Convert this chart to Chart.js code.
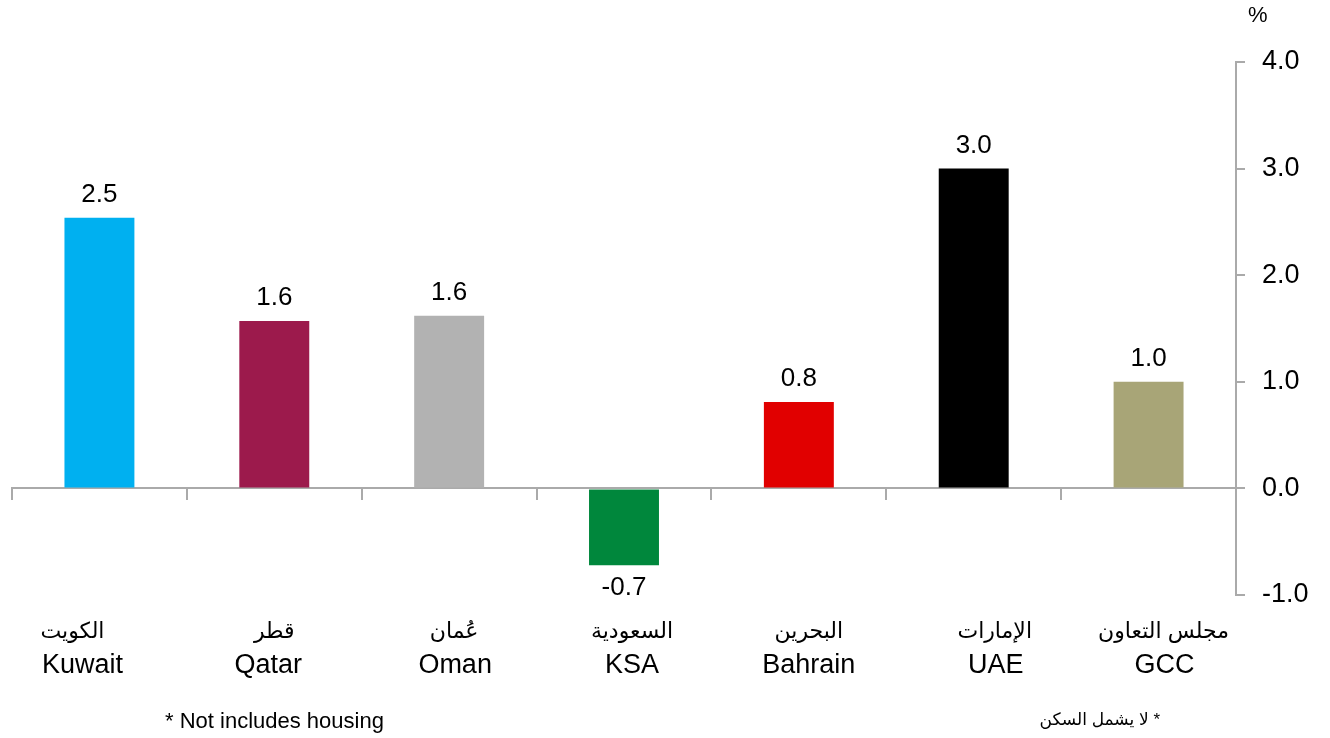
<!DOCTYPE html>
<html>
<head>
<meta charset="utf-8">
<script src="https://cdn.jsdelivr.net/npm/chart.js@4/dist/chart.umd.min.js"></script>
<style>
  html, body { margin: 0; padding: 0; background: #fff; }
  #wrap { position: relative; width: 1330px; height: 738px; }
  .note { position: absolute; font-family: "Liberation Sans", Arial, "DejaVu Sans", sans-serif; color: #000; white-space: nowrap; }
</style>
</head>
<body>
<div id="wrap">
  <canvas id="cpiChart" width="1330" height="738"></canvas>
  <div class="note" style="left:1248px; top:2px; font-size:22px;">%</div>
  <div class="note" style="left:165px; top:708px; font-size:22px;">* Not includes housing</div>
  <div class="note" dir="rtl" style="right:170px; top:709px; font-size:17px;">* لا يشمل السكن</div>
</div>
<script>
const arabicNames = ['الكويت', 'قطر', 'عُمان', 'السعودية', 'البحرين', 'الإمارات', 'مجلس التعاون'];
const englishNames = ['Kuwait', 'Qatar', 'Oman', 'KSA', 'Bahrain', 'UAE', 'GCC'];
const inflation = [2.54, 1.57, 1.62, -0.72, 0.81, 3.0, 1.0];
const barColors = ['#00b0f0', '#9c1a4c', '#b2b2b2', '#00873c', '#e10000', '#000000', '#a8a577'];
const yTicks = [4.0, 3.0, 2.0, 1.0, 0.0, -1.0];

// category labels in the original are not exactly centred under the bars
const shiftAr = [-27, 0, 5, 8, 10, 21, 15];
const shiftEn = [-17, -6, 6, 8, 10, 22, 16];

const lineColor = '#aaaaaa';
const fontFamily = '"Liberation Sans", Arial, "DejaVu Sans", sans-serif';

// value labels above / below bars
const valueLabels = {
  id: 'valueLabels',
  afterDatasetsDraw(chart) {
    const ctx = chart.ctx;
    const meta = chart.getDatasetMeta(0);
    ctx.save();
    ctx.font = '26px ' + fontFamily;
    ctx.fillStyle = '#000';
    ctx.textAlign = 'center';
    ctx.textBaseline = 'alphabetic';
    meta.data.forEach(function (bar, i) {
      const v = inflation[i];
      const y = v >= 0 ? bar.y - 16 : bar.y + 30;
      ctx.fillText(v.toFixed(1), bar.x, y);
    });
    ctx.restore();
  }
};

// two-line category labels (Arabic over English)
const categoryLabels = {
  id: 'categoryLabels',
  afterDraw(chart) {
    const ctx = chart.ctx;
    const xs = chart.scales.x;
    const top = chart.chartArea.bottom;
    ctx.save();
    ctx.fillStyle = '#000';
    ctx.textAlign = 'center';
    ctx.textBaseline = 'alphabetic';
    englishNames.forEach(function (name, i) {
      const x = xs.getPixelForValue(i);
      ctx.font = '22px ' + fontFamily;
      ctx.fillText(arabicNames[i], x + shiftAr[i], top + 43);
      ctx.font = '27px ' + fontFamily;
      ctx.fillText(name, x + shiftEn[i], top + 78);
    });
    ctx.restore();
  }
};

new Chart(document.getElementById('cpiChart'), {
  type: 'bar',
  data: {
    labels: englishNames,
    datasets: [{
      data: inflation,
      backgroundColor: barColors,
      borderWidth: 0,
      categoryPercentage: 1,
      barPercentage: 0.4,
      xAxisID: 'x'
    }]
  },
  options: {
    responsive: false,
    animation: false,
    layout: { padding: { top: 62, left: 12, right: 0, bottom: 0 } },
    plugins: { legend: { display: false }, tooltip: { enabled: false } },
    scales: {
      x: {
        position: 'bottom',
        grid: { display: false, drawTicks: false },
        border: { display: false },
        ticks: { display: false },
        afterFit: function (scale) { scale.height = 143; }
      },
      x2: {
        type: 'category',
        position: { y: 0 },
        offset: true,
        grid: {
          offset: true,
          drawOnChartArea: false,
          drawTicks: true,
          tickLength: 11,
          color: lineColor,
          lineWidth: 2
        },
        border: { display: true, color: lineColor, width: 2 },
        ticks: { display: false }
      },
      y: {
        position: 'right',
        min: -1,
        max: 4,
        afterBuildTicks: function (scale) {
          scale.ticks = yTicks.map(function (v) { return { value: v }; });
        },
        grid: {
          drawOnChartArea: false,
          drawTicks: true,
          tickLength: 9,
          color: lineColor,
          lineWidth: 2
        },
        border: { display: true, color: lineColor, width: 2 },
        ticks: {
          color: '#000',
          padding: 17,
          font: { family: fontFamily, size: 27 },
          callback: function (v) { return Number(v).toFixed(1); }
        },
        afterFit: function (scale) { scale.width = 94; }
      }
    }
  },
  plugins: [valueLabels, categoryLabels]
});
</script>
</body>
</html>
